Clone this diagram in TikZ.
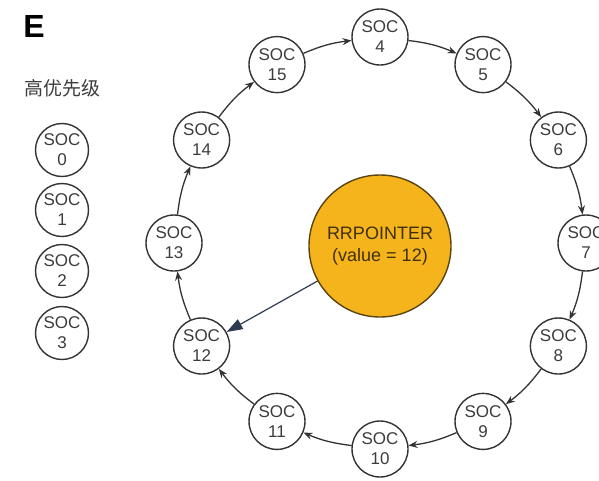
\documentclass[tikz,border=0pt]{standalone}
\usepackage{fontspec}
\setmainfont{Liberation Sans}
\newfontfamily\cjk{Noto Sans CJK SC}
\usetikzlibrary{positioning}
\usetikzlibrary{arrows.meta}

\definecolor{socline}{HTML}{333333}
\definecolor{soctext}{HTML}{3C3C3C}
\definecolor{rrfill}{HTML}{F5B41C}
\definecolor{rrline}{HTML}{5A4410}
\definecolor{ptrline}{HTML}{2E3A4E}

\begin{document}
\begin{tikzpicture}[x=1pt, y=1pt,
		soc/.style={circle, draw=socline, line width=1.4pt, fill=white, minimum size=56pt,
			inner sep=0pt, align=center, text=soctext, font=\fontsize{17}{20}\selectfont},
		ring/.style={-{Stealth[length=9pt, width=7pt]}, line width=1.3pt, draw=socline, bend left=8}]
	\useasboundingbox (0,0) rectangle (599,-480);
	\coordinate (ctr) at (380,-243);
	\node[font=\bfseries\fontsize{32}{36}\selectfont] (tag) at (34,-26) {E};
	\node[font=\cjk\fontsize{19}{22}\selectfont, text=soctext] (lbl) at (62,-88) {高优先级};
	% priority column
	\foreach \n/\y in {0/150, 1/210, 2/271, 3/333}
		\node[soc, minimum size=53pt] (s\n) at (62,-\y) {SOC\\\n};
	% ring of SOCs
	\foreach \n [evaluate=\n as \a using 90-30*(\n-4)] in {4,...,15}
		\node[soc] (s\n) at ({380+206*cos(\a)}, {-243+206*sin(\a)}) {SOC\\\n};
	\foreach \n [remember=\n as \p (initially 15)] in {4,...,15}
		\draw[ring] (s\p) to (s\n);
	% pointer
	\node[circle, fill=rrfill, draw=rrline, line width=1.4pt, minimum size=142pt, align=center,
		text=rrline!70!black, font=\fontsize{18}{22}\selectfont] (rr) at (380,-246) {RRPOINTER\\(value = 12)};
	\draw[-{Triangle[length=16pt, width=11pt]}, line width=1.2pt, draw=ptrline] (rr) -- (s12);
\end{tikzpicture}
\end{document}
